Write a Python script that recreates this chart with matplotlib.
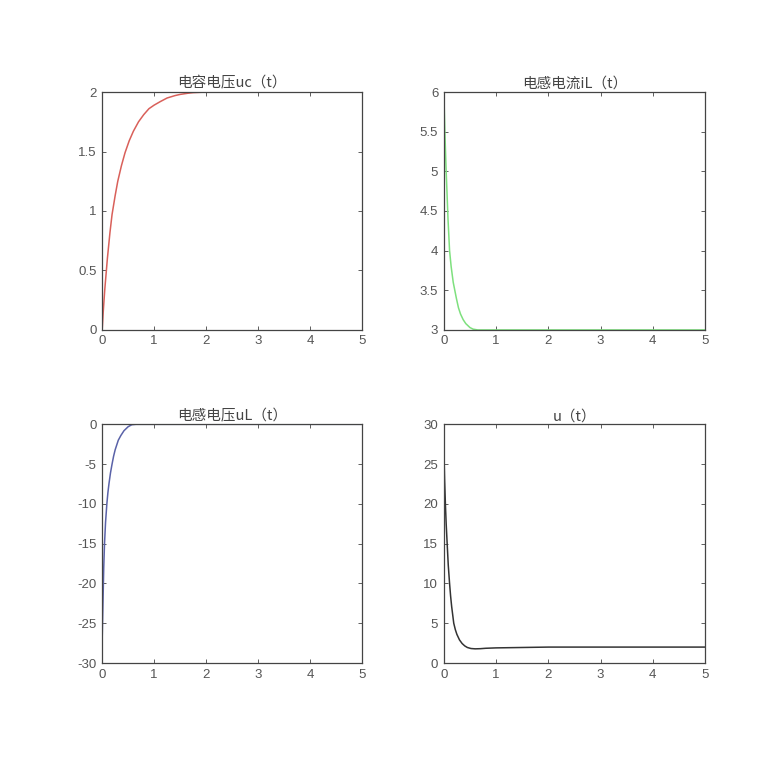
import matplotlib
matplotlib.use('Agg')
import matplotlib.pyplot as plt

plt.rcParams['font.family'] = ['Liberation Sans', 'Noto Sans CJK SC', 'DejaVu Sans']
plt.rcParams['axes.unicode_minus'] = False

# 读图得到的数据点 (t, 数值)
t_uc = [0, 0.02, 0.05, 0.1, 0.15, 0.19, 0.25, 0.3, 0.37, 0.44, 0.52, 0.6, 0.7, 0.8, 0.9, 1.0, 1.12, 1.25, 1.4, 1.5, 1.65, 1.75, 2.0, 5.0]
uc = [0, 0.15, 0.34, 0.6, 0.82, 0.97, 1.13, 1.25, 1.38, 1.49, 1.59, 1.67, 1.75, 1.81, 1.86, 1.89, 1.92, 1.95, 1.97, 1.98, 1.99, 1.995, 2.0, 2.0]

t_iL = [0, 0.01, 0.02, 0.035, 0.045, 0.06, 0.08, 0.11, 0.14, 0.18, 0.24, 0.28, 0.32, 0.37, 0.42, 0.5, 0.56, 0.65, 5.0]
iL = [6.0, 5.75, 5.5, 5.2, 5.0, 4.75, 4.4, 4.0, 3.8, 3.6, 3.4, 3.28, 3.2, 3.13, 3.08, 3.03, 3.01, 3.0, 3.0]

t_uL = [0, 0.01, 0.02, 0.03, 0.045, 0.065, 0.09, 0.11, 0.13, 0.16, 0.19, 0.22, 0.25, 0.31, 0.36, 0.42, 0.5, 0.57, 0.65, 5.0]
uL = [-27, -24, -21, -18, -15, -12.3, -10, -8.6, -7.5, -6.1, -5, -4, -3.2, -2, -1.4, -0.8, -0.3, -0.05, 0, 0]

t_u = [0, 0.008, 0.015, 0.03, 0.045, 0.064, 0.085, 0.11, 0.13, 0.15, 0.19, 0.22, 0.25, 0.3, 0.35, 0.4, 0.45, 0.52, 0.6, 0.7, 0.8, 1.0, 1.3, 1.6, 2.0, 5.0]
u = [27, 25, 23, 20, 17.5, 15, 12.3, 10, 8.4, 7.1, 5.0, 4.2, 3.6, 2.9, 2.45, 2.15, 1.95, 1.82, 1.78, 1.8, 1.85, 1.9, 1.93, 1.96, 2.0, 2.0]

titles = ['电容电压uc（t）', '电感电流iL（t）', '电感电压uL（t）', 'u（t）']
series = [(t_uc, uc), (t_iL, iL), (t_uL, uL), (t_u, u)]
colors = ['#d9605a', '#7ee07e', '#5a62a8', '#333333']
ylims = [(0, 2), (3, 6), (-30, 0), (0, 30)]
yticks = [[0, 0.5, 1, 1.5, 2], [3, 3.5, 4, 4.5, 5, 5.5, 6],
          [-30, -25, -20, -15, -10, -5, 0], [0, 5, 10, 15, 20, 25, 30]]
ytick_labels = [['0', '0.5', '1', '1.5', '2'], ['3', '3.5', '4', '4.5', '5', '5.5', '6'],
                ['-30', '-25', '-20', '-15', '-10', '-5', '0'], ['0', '5', '10', '15', '20', '25', '30']]
xticks = [0, 1, 2, 3, 4, 5]

# 子图位置 [left, bottom, width, height]
positions = [[0.131, 0.577, 0.333, 0.305], [0.569, 0.577, 0.335, 0.305],
             [0.131, 0.150, 0.333, 0.306], [0.569, 0.150, 0.335, 0.306]]

fig = plt.figure(figsize=(7.8, 7.8), dpi=100)
for i in range(4):
    ax = fig.add_axes(positions[i])
    t, y = series[i]
    ax.plot(t, y, color=colors[i], linewidth=1.1)
    ax.set_xlim(0, 5)
    ax.set_ylim(*ylims[i])
    ax.set_xticks(xticks)
    ax.set_yticks(yticks[i])
    ax.set_yticklabels(ytick_labels[i])
    ax.tick_params(direction='in', top=True, right=True, length=3, width=0.6,
                   labelsize=9.5, labelcolor='#555555', colors='#444444', pad=4)
    for sp in ax.spines.values():
        sp.set_color('#444444')
        sp.set_linewidth(0.9)
    ax.set_title(titles[i], fontsize=10.5, color='#444444', pad=3,
                 family=['Noto Sans CJK SC', 'DejaVu Sans'])

fig.savefig('out.png', dpi=100, facecolor='white')
